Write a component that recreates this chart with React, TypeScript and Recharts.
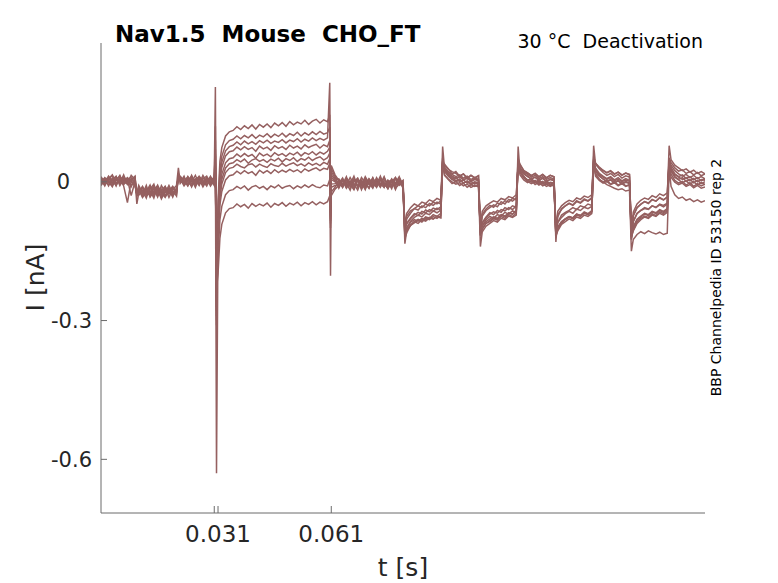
import { LineChart, Line, XAxis, YAxis } from "recharts";

// sample times in ms (extra points on the spikes)
const T_MS = [
  0, 1, 2, 3, 4, 5, 6, 7, 8, 9,
  9.5, 10, 11, 12, 13, 14, 15, 16, 17, 18, 19, 20,
  20.5, 21, 22, 23, 24, 25, 26, 27, 28, 29, 30,
  30.3, 30.6, 31, 31.5, 32, 33, 34, 35, 36, 37, 38, 39, 40, 41, 42, 43, 44, 45, 46, 47, 48, 49, 50, 51, 52, 53, 54, 55, 56, 57, 58, 59, 60,
  60.6, 60.8, 61, 62, 63, 64, 65, 66, 67, 68, 69, 70, 71, 72, 73, 74, 75, 76, 77, 78, 79, 80,
  80.5, 81, 82, 83, 84, 85, 86, 87, 88, 89, 90,
  90.5, 91, 92, 93, 94, 95, 96, 97, 98, 99, 100,
  100.5, 101, 102, 103, 104, 105, 106, 107, 108, 109, 110,
  110.5, 111, 112, 113, 114, 115, 116, 117, 118, 119, 120,
  120.5, 121, 122, 123, 124, 125, 126, 127, 128, 129, 130,
  130.5, 131, 132, 133, 134, 135, 136, 137, 138, 139, 140,
  140.5, 141, 142, 143, 144, 145, 146, 147, 148, 149, 150,
  150.5, 151, 152, 153, 154, 155, 156, 157, 158, 159, 160,
];

// currents in pA, one sweep each
const sweep1 = [
  6, -5, 12, 2, -8, 9, 3, -3, 14, 5,
  -48, -24, -11, -28, -16, -5, -31, -19, -10, -27, -14, -22,
  14, 8, -6, 11, 0, 14, -5, 6, 12, -3, 5,
  205, -300, -40, 44, 74, 99, 108, 111, 119, 113, 121, 115, 123, 114, 124, 118, 125, 117, 127, 121, 128, 120, 130, 123, 129, 125, 133, 124, 131, 135, 127, 134, 130,
  145, -60, 35, 15, 3, -12, 8, -2, -15, 6, -8, 11, -3, -14, 5, -9, 9, -6, 2, -17, 3, -5,
  -108, -80, -68, -58, -61, -52, -56, -47, -51, -44, -48,
  45, 36, 28, 17, 22, 12, 17, 6, 14, 9, 13,
  -112, -74, -62, -56, -50, -54, -43, -48, -38, -42, -35,
  50, 38, 24, 19, 13, 18, 10, 16, 8, 14, 11,
  -130, -76, -58, -52, -46, -50, -41, -45, -37, -41, -34,
  55, 40, 30, 24, 19, 23, 16, 21, 14, 19, 15,
  -118, -73, -56, -48, -43, -46, -38, -42, -34, -39, -33,
  52, 42, 30, 23, 26, 18, 22, 15, 20, 13, 17,
];
const sweep2 = [
  -3, 9, 0, -11, 8, -2, 15, -6, 5, 11,
  -32, -13, -27, -8, -33, -21, -7, -25, -14, -34, -17, -8,
  30, -2, 12, -8, 5, -12, 9, 2, -9, 8, 0,
  120, -310, -55, 25, 55, 80, 89, 92, 99, 93, 100, 95, 102, 94, 101, 97, 104, 96, 103, 98, 105, 97, 104, 100, 107, 99, 106, 101, 108, 102, 109, 103, 106,
  118, -70, 28, 12, -9, 6, -3, -18, 5, -11, 9, -2, -14, 3, -6, 12, -8, 0, -15, 8, -5, 2,
  -100, -91, -80, -72, -66, -70, -61, -65, -57, -60, -54,
  76, 28, 16, 9, 2, 6, -3, 1, -7, -2, -6,
  -105, -88, -76, -67, -71, -62, -66, -56, -60, -52, -55,
  42, 20, 12, 3, 7, -2, 2, -5, 0, -8, -3,
  -110, -88, -72, -66, -62, -56, -60, -52, -55, -48, -51,
  48, 24, 12, 6, 0, 4, -3, 2, -5, -1, -4,
  -125, -86, -68, -62, -56, -59, -52, -55, -48, -51, -46,
  46, 24, 10, 4, -2, 2, -5, 0, -7, -2, -6,
];
const sweep3 = [
  11, -2, 5, 14, -3, 6, -9, -45, 2, -6,
  -28, -29, -19, -35, -11, -24, -17, -37, -21, -13, -29, -16,
  12, 12, 2, -9, 9, 3, -5, 14, 0, 6, -8,
  90, -290, -70, 12, 42, 67, 76, 79, 86, 80, 88, 82, 87, 81, 89, 84, 90, 83, 88, 85, 91, 84, 90, 87, 93, 86, 92, 88, 95, 89, 94, 90, 95,
  214, -50, 22, 8, 5, -6, 11, -12, 0, 8, -17, 2, -5, 9, -11, 3, -2, -14, 6, -3, 11, -8,
  -98, -74, -63, -58, -52, -56, -48, -52, -44, -48, -41,
  40, 38, 27, 22, 18, 12, 17, 9, 14, 8, 13,
  -98, -70, -59, -51, -55, -46, -49, -41, -44, -36, -39,
  38, 36, 24, 19, 14, 18, 11, 16, 9, 14, 11,
  -104, -71, -60, -52, -47, -51, -43, -46, -39, -42, -36,
  44, 40, 32, 25, 20, 24, 17, 21, 15, 19, 16,
  -110, -74, -56, -49, -43, -47, -39, -42, -35, -39, -33,
  78, 48, 36, 30, 24, 28, 21, 25, 18, 22, 17,
];
const sweep4 = [
  0, 8, -9, 5, 12, -5, 2, 9, -8, 3,
  -26, -17, -34, -22, -10, -28, -14, -33, -24, -8, -25, -21,
  16, 5, -3, 8, -11, 6, 0, -6, 9, -2, 11,
  70, -280, -80, 1, 31, 56, 65, 67, 75, 69, 76, 70, 74, 66, 77, 71, 75, 68, 78, 72, 76, 70, 79, 73, 77, 71, 80, 74, 78, 81, 73, 80, 76,
  90, -80, 15, 5, -14, 2, -6, 9, -5, -18, 3, -9, 6, -2, -12, 8, -3, -15, 0, 9, -8, -2,
  -134, -104, -94, -86, -81, -84, -76, -79, -71, -75, -68,
  52, 27, 13, 5, 10, 0, 4, -3, 1, -5, -1,
  -116, -102, -90, -84, -78, -81, -72, -76, -67, -70, -63,
  46, 25, 11, 3, 7, -1, 4, -3, 2, -5, -1,
  -115, -98, -87, -80, -75, -78, -70, -73, -65, -69, -62,
  50, 23, 13, 6, 1, 5, -2, 3, -4, 1, -3,
  -124, -100, -83, -76, -70, -73, -65, -69, -62, -66, -60,
  50, 25, 11, 5, 9, 1, 5, -2, 3, -4, 0,
];
const sweep5 = [
  5, -9, 8, -3, 2, 14, -6, 3, -11, 8,
  -30, -22, -10, -27, -19, -35, -11, -21, -30, -16, -33, -13,
  10, 11, -5, 3, 12, -8, 5, -2, 8, -9, 3,
  60, -630, -110, -15, 16, 41, 50, 52, 60, 54, 61, 55, 59, 51, 62, 56, 60, 54, 63, 57, 61, 55, 62, 58, 64, 56, 63, 59, 65, 58, 64, 60, 66,
  75, -90, 10, 2, 6, -9, 0, -5, 12, -11, 2, -3, -14, 8, -6, 5, -12, 3, -8, 9, -2, -11,
  -104, -90, -78, -69, -73, -64, -67, -60, -64, -57, -61,
  44, 32, 22, 16, 11, 15, 8, 12, 5, 9, 5,
  -100, -90, -78, -70, -65, -68, -60, -63, -56, -60, -52,
  40, 30, 21, 16, 10, 14, 7, 11, 5, 9, 6,
  -106, -88, -77, -69, -64, -68, -59, -62, -55, -58, -53,
  78, 38, 28, 20, 14, 18, 11, 16, 8, 13, 10,
  -112, -86, -69, -62, -58, -60, -52, -56, -50, -54, -48,
  48, 36, 24, 17, 12, 16, 9, 14, 7, 11, 6,
];
const sweep6 = [
  -8, 3, 11, -5, 6, -2, 9, 5, -30, 0,
  -25, -16, -31, -21, -7, -30, -13, -24, -34, -19, -11, -27,
  14, 2, 9, -6, 14, -3, 6, -11, 3, 9, -5,
  55, -270, -105, -25, 5, 30, 39, 41, 48, 43, 49, 40, 47, 50, 44, 48, 42, 49, 45, 51, 43, 50, 46, 52, 44, 50, 47, 53, 46, 51, 54, 47, 52,
  62, -75, 5, 0, -3, 8, -12, 2, -8, 5, -2, -15, 6, -9, 3, -5, 11, -11, 0, -6, 5, -14,
  -122, -110, -94, -86, -90, -82, -85, -78, -81, -74, -77,
  38, 15, 5, -4, 1, -8, -3, -12, -6, -10, -7,
  -140, -108, -96, -90, -84, -87, -79, -82, -74, -77, -72,
  44, 15, 4, -2, 3, -6, -1, -9, -5, -10, -6,
  -118, -106, -92, -86, -80, -84, -76, -79, -72, -75, -69,
  46, 17, 5, -1, 3, -5, 0, -7, -2, -9, -6,
  -120, -106, -90, -82, -76, -79, -72, -75, -68, -72, -66,
  44, 17, 3, -3, 1, -7, -2, -10, -4, -9, -5,
];
const sweep7 = [
  2, -6, 6, 15, -5, 3, -3, 8, 0, -9,
  -24, -8, -24, -14, -31, -10, -22, -28, -11, -25, -19, -31,
  18, -3, 8, 0, -9, 5, 11, -3, 6, -6, 2,
  40, -260, -115, -35, -5, 20, 29, 31, 38, 33, 30, 37, 39, 32, 38, 34, 31, 39, 35, 33, 40, 34, 38, 41, 35, 39, 34, 41, 36, 40, 35, 42, 38,
  50, -203, -5, -4, 2, -11, 5, -6, -17, 3, -8, 8, -3, -12, 0, 6, -9, -2, 5, -14, -5, 3,
  -96, -68, -56, -48, -52, -44, -47, -39, -43, -36, -40,
  36, 28, 18, 12, 7, 11, 4, 9, 2, 7, 4,
  -96, -64, -52, -46, -41, -44, -36, -39, -32, -35, -28,
  36, 28, 17, 11, 6, 10, 3, 8, 1, 6, 3,
  -100, -64, -52, -45, -40, -43, -35, -38, -31, -34, -28,
  40, 30, 18, 12, 7, 11, 4, 9, 2, 7, 3,
  -106, -66, -48, -40, -35, -38, -30, -34, -26, -30, -24,
  42, 30, 16, 10, 5, 9, 2, 7, 0, 5, 3,
];
const sweep8 = [
  -5, 5, -2, 8, -9, 11, 0, -5, 6, 2,
  -27, -21, -13, -30, -24, -16, -33, -8, -22, -17, -30, -14,
  8, 6, -9, 2, 8, -5, 12, 3, -6, 5, 8,
  35, -250, -130, -50, -21, 4, 13, 15, 23, 17, 24, 18, 22, 14, 25, 19, 24, 18, 26, 20, 25, 21, 27, 22, 26, 20, 28, 23, 27, 30, 24, 29, 27,
  40, -65, -12, -8, -6, 5, -9, 0, -14, 6, -3, -11, 2, -8, 9, -5, -12, 3, -2, -9, 8, -6,
  -110, -99, -85, -77, -72, -76, -68, -71, -63, -67, -61,
  42, 14, 6, 0, -5, -2, -9, -5, -12, -8, -11,
  -110, -95, -82, -75, -79, -71, -74, -66, -70, -63, -66,
  76, 20, 8, 1, -4, 0, -7, -3, -10, -6, -9,
  -115, -101, -88, -81, -76, -79, -71, -74, -67, -70, -65,
  42, 12, 3, -3, 1, -6, -2, -9, -4, -10, -7,
  -108, -97, -81, -74, -68, -71, -64, -67, -60, -64, -58,
  40, 10, -1, -6, -3, -10, -6, -13, -8, -14, -11,
];
const sweep9 = [
  8, 0, -6, 3, 11, -8, 6, -2, 3, 12,
  -29, -25, -14, -21, -28, -10, -27, -16, -31, -21, -10, -24,
  12, 8, 0, 11, -5, 3, -8, 9, -2, 12, -3,
  30, -240, -160, -82, -53, -28, -19, -17, -10, -15, -9, -18, -11, -8, -14, -10, -17, -9, -13, -7, -14, -10, -8, -15, -9, -13, -7, -12, -6, -11, -13, -7, -9,
  5, -85, -22, -12, 0, -12, 6, -5, -9, 3, -15, 5, -6, 2, -11, 8, -3, -14, 2, -8, 6, -9,
  -118, -106, -94, -89, -83, -87, -79, -82, -75, -79, -73,
  48, 29, 19, 12, 7, 11, 4, 8, 1, 5, 2,
  -116, -102, -90, -86, -80, -83, -75, -79, -71, -75, -68,
  48, 30, 18, 12, 6, 10, 3, 8, 0, 5, 2,
  -112, -100, -89, -81, -76, -80, -72, -75, -68, -71, -65,
  44, 26, 16, 10, 5, 9, 2, 6, 0, 4, 1,
  -118, -104, -87, -79, -74, -77, -69, -73, -65, -69, -63,
  46, 30, 17, 11, 15, 7, 11, 4, 9, 2, 6,
];
const sweep10 = [
  -2, 6, 3, -8, 5, 12, -3, 6, 9, -5,
  -26, -11, -28, -17, -25, -8, -22, -31, -13, -21, -28, -19,
  9, 3, -6, 6, 2, -3, 9, -8, 5, 0, 9,
  25, -230, -200, -122, -92, -67, -58, -56, -48, -54, -49, -57, -47, -53, -48, -52, -46, -55, -47, -51, -45, -53, -46, -50, -44, -52, -45, -49, -43, -50, -44, -48, -43,
  -30, -100, -30, -16, -8, 3, -14, -3, 6, -9, -2, -17, 5, -6, 0, -12, 3, -5, -11, 6, -3, -8,
  -115, -100, -88, -82, -85, -79, -83, -77, -80, -75, -78,
  40, 22, 12, 5, 0, 4, -3, 2, -4, 0, -2,
  -110, -96, -86, -80, -76, -79, -71, -74, -67, -70, -64,
  40, 22, 10, 4, -1, 3, -4, 1, -5, -1, -3,
  -118, -98, -86, -80, -75, -78, -70, -73, -67, -70, -64,
  38, 18, 5, 0, -6, -10, -14, -17, -15, -20, -18,
  -150, -125, -114, -108, -112, -106, -110, -113, -109, -114, -111,
  30, -10, -28, -36, -33, -40, -37, -43, -39, -44, -41,
];

const sweeps = [sweep1, sweep2, sweep3, sweep4, sweep5, sweep6, sweep7, sweep8, sweep9, sweep10];

const xTicks = [0.03, 0.031, 0.061];
const yTicks = [-0.6, -0.3, 0];

const data = T_MS.map((t, i) => {
  const row: Record<string, number> = { t: t / 1000 };
  sweeps.forEach((s, k) => {
    row["s" + k] = s[i] / 1000;
  });
  return row;
});

const TRACE = "#956060";
const AXIS = "#6b6b6b";
const TEXT = "#262626";
const FONT = "DejaVu Sans";

function XTick({ x, y, payload }: any) {
  const v = payload.value;
  const label = v === 0.03 ? "" : String(v);
  return (
    <g>
      <line x1={x} y1={y} x2={x} y2={y - 7} stroke={AXIS} strokeWidth={1} />
      {label && (
        <text x={x} y={y + 29} textAnchor="middle" fontSize={23} fill={TEXT} fontFamily={FONT}>
          {label}
        </text>
      )}
    </g>
  );
}

function YTick({ x, y, payload }: any) {
  const v = payload.value;
  return (
    <g>
      <line x1={x} y1={y} x2={x + 6} y2={y} stroke={AXIS} strokeWidth={1} />
      <text x={v === 0 ? x - 31 : x - 9} y={y} dy={7.5} textAnchor="end" fontSize={21} fill={TEXT} fontFamily={FONT}>
        {String(v)}
      </text>
    </g>
  );
}

export default function App() {
  return (
    <div style={{ position: "absolute", left: 0, top: 0, width: 778, height: 583, background: "#fff" }}>
      <LineChart width={778} height={583} data={data} margin={{ top: 43, right: 73, bottom: 0, left: 0 }}>
        <XAxis
          dataKey="t"
          type="number"
          domain={[0, 0.16]}
          ticks={xTicks}
          interval={0}
          height={70}
          tickSize={0}
          tickMargin={0}
          tickLine={false}
          axisLine={{ stroke: AXIS }}
          tick={<XTick />}
          allowDataOverflow
        />
        <YAxis
          type="number"
          domain={[-0.716, 0.3]}
          ticks={yTicks}
          interval={0}
          width={101}
          tickSize={0}
          tickMargin={0}
          tickLine={false}
          axisLine={{ stroke: AXIS }}
          tick={<YTick />}
          allowDataOverflow
        />
        {sweeps.map((_, k) => (
          <Line
            key={k}
            dataKey={"s" + k}
            type="linear"
            stroke={TRACE}
            strokeWidth={1.5}
            dot={false}
            isAnimationActive={false}
          />
        ))}
      </LineChart>
      <svg width={778} height={583} style={{ position: "absolute", left: 0, top: 0, pointerEvents: "none" }}>
        <text x={115} y={42} fontSize={23} fontWeight="bold" fill="#000" fontFamily={FONT} style={{ whiteSpace: "pre" }}>
          Nav1.5  Mouse  CHO_FT
        </text>
        <text x={703} y={48} fontSize={19} textAnchor="end" fill="#000" fontFamily={FONT} style={{ whiteSpace: "pre" }}>
          30 °C  Deactivation
        </text>
        <text x={721} y={277.5} fontSize={14} textAnchor="middle" fill="#000" fontFamily={FONT} transform="rotate(-90 721 277.5)">
          BBP Channelpedia ID 53150 rep 2
        </text>
        <text x={44} y={277.5} fontSize={25} textAnchor="middle" fill={TEXT} fontFamily={FONT} transform="rotate(-90 44 277.5)">
          I [nA]
        </text>
        <text x={403} y={576} fontSize={25} textAnchor="middle" fill={TEXT} fontFamily={FONT}>
          t [s]
        </text>
      </svg>
    </div>
  );
}
